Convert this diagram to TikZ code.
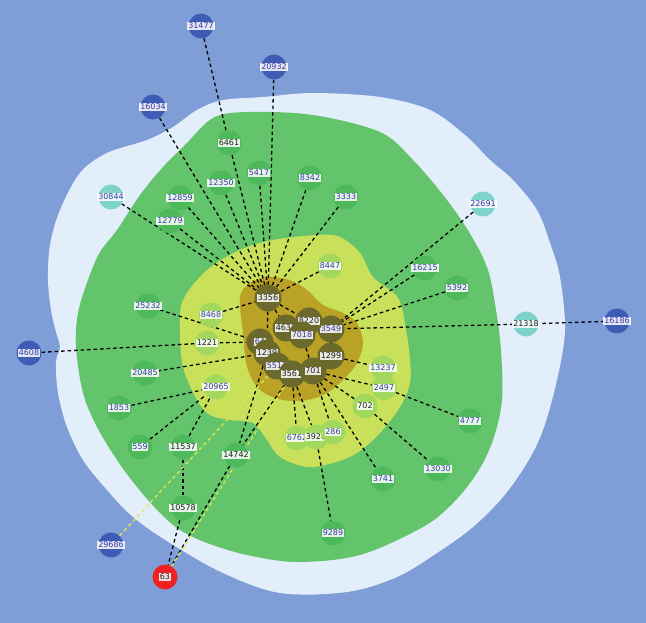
\documentclass[tikz,border=0pt]{standalone}
\usepackage{fontspec}
\setmainfont{DejaVu Sans}
\definecolor{bgblue}{HTML}{7F9ED8}
\definecolor{lightreg}{HTML}{E2EEF9}
\definecolor{greenreg}{HTML}{63C46B}
\definecolor{yellowreg}{HTML}{C9E15A}
\definecolor{olivereg}{HTML}{B9A226}
\definecolor{nblue}{HTML}{3E5CB5}
\definecolor{ncyan}{HTML}{7DD3CA}
\definecolor{ngreen}{HTML}{4DB95B}
\definecolor{nlgreen}{HTML}{A3D85E}
\definecolor{nolive}{HTML}{6B6A2C}
\definecolor{nred}{HTML}{EE2222}
\definecolor{lblue}{HTML}{3A3AA0}
\definecolor{lblack}{HTML}{202020}
\definecolor{eyellow}{HTML}{DDE850}
\pgfdeclarelayer{regions}
\pgfdeclarelayer{edges}
\pgfsetlayers{regions,edges,main}
\tikzset{
  nd/.style={circle, minimum size=25pt, inner sep=0pt, draw=none},
  bn/.style={nd, fill=nblue},
  rn/.style={nd, fill=nred},
  cn/.style={nd, fill=ncyan},
  gn/.style={nd, fill=ngreen},
  ln/.style={nd, fill=nlgreen},
  dn/.style={nd, fill=nolive, minimum size=27pt},
  lb/.style={fill=white, fill opacity=0.85, text opacity=1, inner sep=0.8pt,
    font=\fontsize{8}{9}\selectfont, text=lblue},
  lk/.style={lb, text=lblack},
  edk/.style={draw=black, line width=1.3pt, dash pattern=on 3.5pt off 3pt},
  edy/.style={draw=eyellow, line width=1.3pt, dash pattern=on 3.5pt off 3pt},
}
\newcommand\mknode[4]{\node[#1] (n#2) at (#3) {}; \node[#4] (l#2) at (n#2) {#2};}
\newcommand\edg[2]{\draw[edk] (n#1) -- (n#2);}
\newcommand\edgy[2]{\draw[edy] (n#1) -- (n#2);}
\begin{document}
\begin{tikzpicture}[x=1pt,y=-1pt]
\useasboundingbox (0,0) rectangle (646,623);
\begin{pgfonlayer}{regions}
\fill[bgblue] (0,0) rectangle (646,623);
\fill[lightreg] plot[smooth cycle, tension=0.55] coordinates {
 (48,280) (51,310) (56,332) (60,347) (56,362) (58,393) (67,427) (83,460) (107,490)
 (133,517) (170,543) (223,573) (280,593) (347,592) (397,577) (437,553) (473,527)
 (503,497) (527,463) (543,430) (557,380) (565,330) (560,277) (550,243) (537,210)
 (513,180) (490,160) (465,135) (430,110) (380,97) (313,93) (263,97) (223,100)
 (197,110) (173,127) (147,140) (107,153) (80,173) (60,210) (50,245)};
\fill[greenreg] plot[smooth cycle, tension=0.55] coordinates {
 (88,280) (78,313) (76,347) (83,393) (97,427) (117,460) (137,487) (160,513)
 (180,530) (207,543) (247,555) (297,562) (360,555) (423,527) (453,503) (477,473)
 (493,440) (502,400) (501,350) (496,310) (488,270) (472,237) (447,200) (413,160)
 (380,132) (313,115) (247,112) (213,118) (185,145) (163,167) (140,195) (117,230) (100,252)};
\fill[yellowreg] plot[smooth cycle, tension=0.55] coordinates {
 (183,300) (207,270) (240,250) (273,240) (317,235) (340,237) (360,253) (373,277)
 (398,298) (406,330) (410,360) (410,383) (400,407) (380,433) (357,453) (333,463)
 (307,467) (280,457) (267,440) (253,423) (230,420) (210,415) (197,400) (183,367) (180,330)};
\fill[olivereg] plot[smooth cycle, tension=0.55] coordinates {
 (240,297) (250,283) (267,277) (290,280) (307,290) (323,305) (343,313) (357,323)
 (363,343) (357,363) (345,378) (327,393) (307,400) (283,400) (260,390) (247,367) (243,333)};
\end{pgfonlayer}
% outer blue nodes
\mknode{bn}{31477}{201,26}{lb}
\mknode{bn}{20932}{274,67}{lb}
\mknode{bn}{16034}{153,107}{lb}
\mknode{bn}{4608}{29,353}{lb}
\mknode{bn}{16186}{617,321}{lb}
\mknode{bn}{29686}{111,545}{lb}
\mknode{rn}{63}{165,577}{lk}
% cyan
\mknode{cn}{30844}{111,197}{lb}
\mknode{cn}{22691}{483,204}{lb}
\mknode{cn}{21318}{526,324}{lk}
% green
\mknode{gn}{6461}{229,143}{lk}
\mknode{gn}{5417}{259,173}{lb}
\mknode{gn}{12350}{221,183}{lb}
\mknode{gn}{8342}{310,178}{lb}
\mknode{gn}{3333}{346,197}{lb}
\mknode{gn}{12859}{180,198}{lb}
\mknode{gn}{12779}{170,221}{lb}
\mknode{gn}{16215}{425,268}{lb}
\mknode{gn}{5392}{457,288}{lb}
\mknode{gn}{25232}{148,306}{lb}
\mknode{gn}{20485}{145,373}{lb}
\mknode{gn}{1853}{119,408}{lb}
\mknode{gn}{559}{140,447}{lb}
\mknode{gn}{11537}{183,447}{lk}
\mknode{gn}{14742}{236,455}{lk}
\mknode{gn}{10578}{183,508}{lk}
\mknode{gn}{4777}{470,421}{lb}
\mknode{gn}{13030}{438,469}{lb}
\mknode{gn}{3741}{383,479}{lb}
\mknode{gn}{9289}{333,533}{lb}
% light green
\mknode{ln}{8447}{330,266}{lb}
\mknode{ln}{8468}{211,315}{lb}
\mknode{ln}{1221}{207,343}{lk}
\mknode{ln}{20965}{216,387}{lb}
\mknode{ln}{13237}{383,368}{lb}
\mknode{ln}{2497}{384,388}{lb}
\mknode{ln}{702}{365,406}{lk}
\mknode{ln}{6762}{297,438}{lb}
\mknode{ln}{3928}{316,437}{lk}
\mknode{ln}{286}{333,432}{lb}
% olive cluster
\mknode{dn}{3356}{268,298}{lk}
\mknode{dn}{3549}{331,329}{lb}
\mknode{dn}{4637}{286,328}{lk}
\mknode{dn}{8220}{309,321}{lk}
\mknode{dn}{7018}{302,335}{lb}
\mknode{dn}{64}{260,342}{lb}
\mknode{dn}{1239}{267,353}{lk}
\mknode{dn}{1299}{331,356}{lk}
\mknode{dn}{5511}{277,366}{lb}
\mknode{dn}{3561}{292,374}{lk}
\mknode{dn}{701}{313,371}{lk}
\begin{pgfonlayer}{edges}
\edg{31477}{6461} \edg{6461}{3356} \edg{20932}{3356} \edg{16034}{3356}
\edg{5417}{3356} \edg{12350}{3356} \edg{12859}{3356} \edg{12779}{3356}
\edg{30844}{3356} \edg{8342}{3356} \edg{3333}{3356} \edg{8447}{3356}
\edg{8468}{3356}
\edg{22691}{3549} \edg{16215}{3549} \edg{5392}{3549} \edg{21318}{3549}
\edg{16186}{21318}
\edg{4608}{1221} \edg{1221}{64} \edg{25232}{64} \edg{20485}{1239}
\edg{1853}{20965} \edg{559}{20965} \edg{11537}{20965}
\edg{11537}{10578} \edg{10578}{63} \edg{14742}{63}
\edg{1239}{14742} \edg{3561}{14742}
\edg{3561}{6762} \edg{3561}{3928} \edg{3928}{9289}
\edg{701}{286} \edg{701}{3741} \edg{701}{702} \edg{702}{13030}
\edg{701}{2497} \edg{2497}{4777} \edg{1299}{13237}
\edg{3356}{4637} \edg{3356}{8220} \edg{3356}{1239} \edg{8220}{3549}
\edg{3549}{1299} \edg{1299}{701} \edg{5511}{3561} \edg{1239}{5511}
\edg{7018}{701}
\edgy{29686}{5511} \edgy{63}{3561}
\end{pgfonlayer}
\end{tikzpicture}
\end{document}
